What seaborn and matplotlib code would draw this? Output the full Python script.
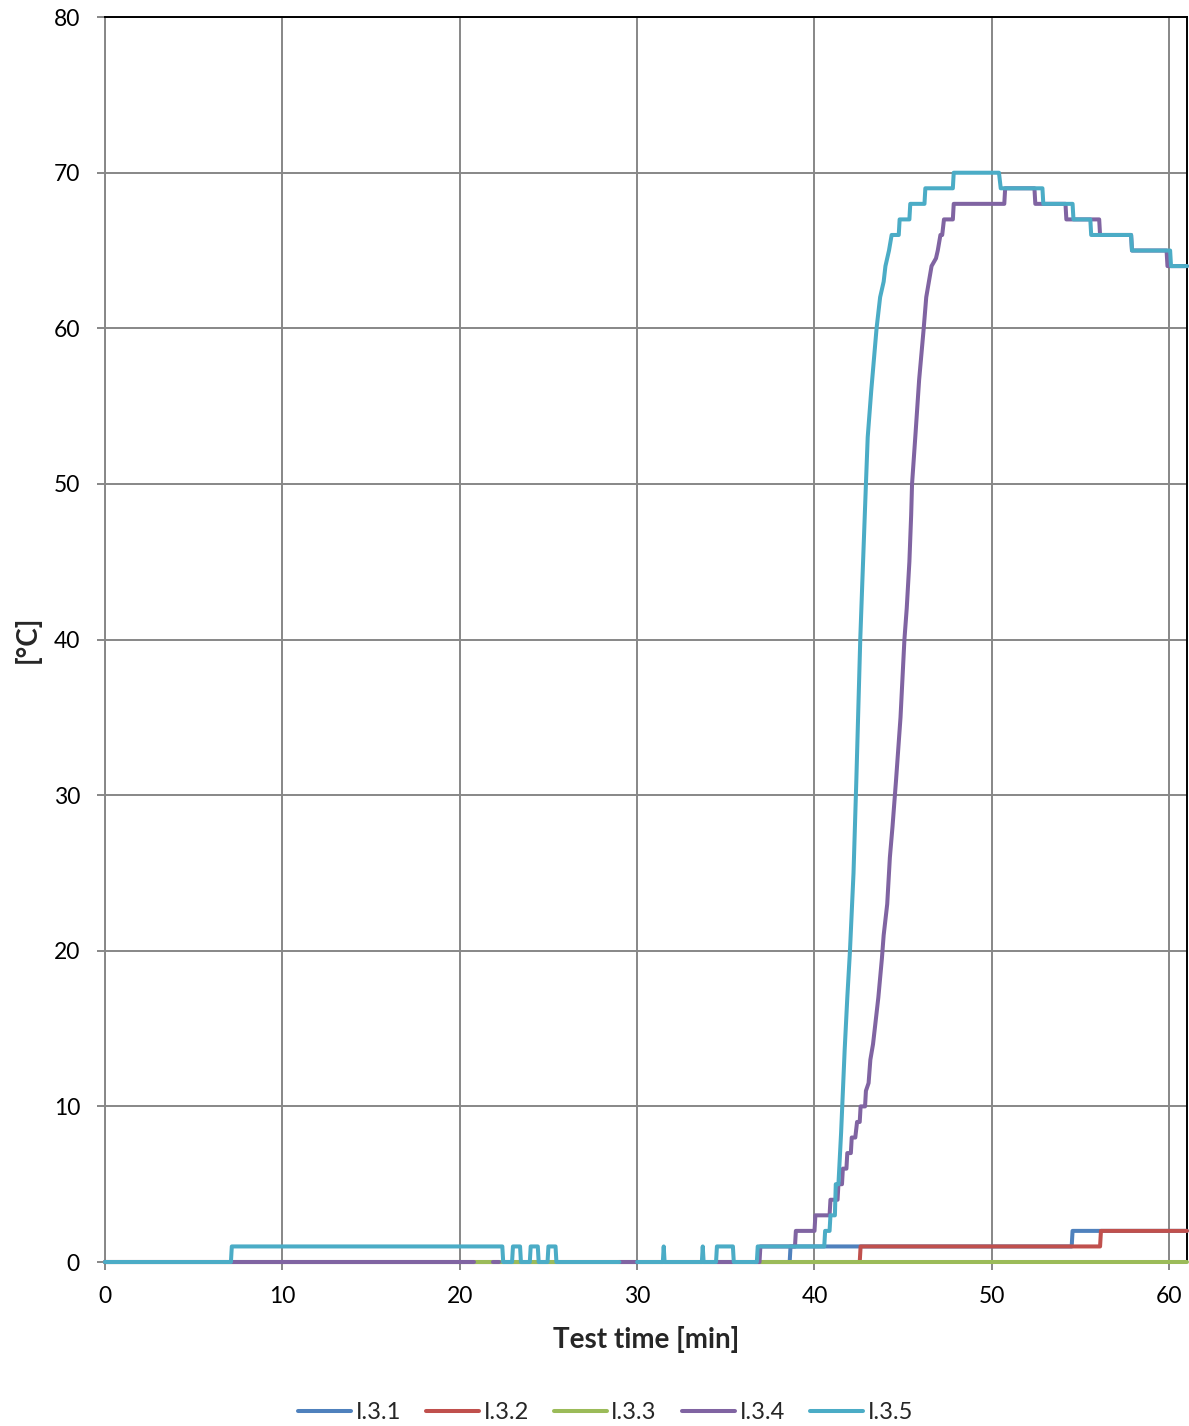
import numpy as np
import pandas as pd
import matplotlib
matplotlib.use("Agg")
import matplotlib.pyplot as plt
from matplotlib.lines import Line2D
import seaborn as sns

nan = np.nan

# Thermocouple readings: corner points of each trace (time in min, temperature in °C).
# NaN marks an interval with no valid reading (gap in the trace).
t_131 = [0, 38.6, 38.65, 54.5, 54.55, 61.0]
v_131 = [0, 0, 1, 1, 2, 2]

t_132 = [0, 42.55, 42.6, 56.1, 56.15, 61.0]
v_132 = [0, 0, 1, 1, 2, 2]

t_133 = [0, 61.0]
v_133 = [0, 0]

t_134 = [0, 20.8, 20.85,
         21.9, 22.2, 22.25,
         29.0, 30.0, 30.05,
         34.5, 35.4, 35.45,
         36.6, 36.9, 36.95, 38.9, 38.95, 40.0, 40.05, 40.85, 40.9, 41.3, 41.35,
         41.55, 41.6, 41.8, 41.85, 42.05, 42.1, 42.3, 42.4, 42.55, 42.6, 42.85,
         42.9, 43.05, 43.15, 43.3, 43.4, 43.6, 43.8, 43.9, 44.1, 44.25, 44.4,
         44.6, 44.85, 45.07, 45.2, 45.35, 45.45, 45.5, 45.7, 45.9, 46.15, 46.3,
         46.45, 46.6, 46.85, 46.95, 47.1, 47.2, 47.3, 47.8, 47.85, 50.7, 50.75,
         52.4, 52.45, 54.15, 54.2, 56.05, 56.1, 57.85, 57.9, 59.85, 59.9, 61.0]
v_134 = [0, 0, nan,
         0, 0, nan,
         0, 0, nan,
         0, 0, nan,
         0, 0, 1, 1, 2, 2, 3, 3, 4, 4, 5,
         5, 6, 6, 7, 7, 8, 8, 9, 9, 10, 10,
         11, 11.5, 13, 14, 15, 17, 19.5, 21, 23, 26, 28,
         31, 35, 40, 42, 45, 48, 50, 53.3, 56.7, 59.9, 62,
         63, 64, 64.5, 65, 66, 66, 67, 67, 68, 68, 69,
         69, 68, 68, 67, 67, 66, 66, 65, 65, 64, 64]

t_135 = [0, 7.1, 7.15, 22.4, 22.45, 22.95, 23.0, 23.4, 23.45, 23.95, 24.0,
         24.4, 24.45, 24.95, 25.0, 25.4, 25.45, 29.0, 29.05,
         30.0, 31.45, 31.5, 31.55, 33.65, 33.7, 33.75, 34.45, 34.5, 35.4,
         35.45, 36.75, 36.8, 40.55, 40.6, 40.85, 40.9, 41.15, 41.2, 41.35,
         41.5, 41.7, 41.85, 42.0, 42.2, 42.36, 42.58, 42.7, 42.9, 43.0, 43.2,
         43.5, 43.7, 43.9, 44.0, 44.2, 44.35, 44.75, 44.8, 45.35, 45.4, 46.2,
         46.25, 47.8, 47.85, 50.4, 50.5, 52.85, 52.9, 54.55, 54.6, 55.55,
         55.6, 57.85, 57.9, 60.05, 60.1, 61.0]
v_135 = [0, 0, 1, 1, 0, 0, 1, 1, 0, 0, 1,
         1, 0, 0, 1, 1, 0, 0, nan,
         0, 0, 1, 0, 0, 1, 0, 0, 1, 1,
         0, 0, 1, 1, 2, 2, 3, 3, 5, 5,
         8.3, 13.6, 17, 20, 25, 31, 40, 43.8, 50, 53, 56,
         60, 62, 63, 64, 65, 66, 66, 67, 67, 68, 68,
         69, 69, 70, 70, 69, 69, 68, 68, 67, 67,
         66, 66, 65, 65, 64, 64]

names = ["I.3.1", "I.3.2", "I.3.3", "I.3.4", "I.3.5"]
times = [t_131, t_132, t_133, t_134, t_135]
values = [v_131, v_132, v_133, v_134, v_135]
colors = ["#4F81BD", "#C0504D", "#9BBB59", "#8064A2", "#4BACC6"]

frames = []
for name, t, v in zip(names, times, values):
    d = pd.DataFrame({"time": t, "temp": v, "sensor": name})
    # a new segment starts after every missing reading
    d["segment"] = d["temp"].isna().cumsum()
    frames.append(d.dropna())
df = pd.concat(frames, ignore_index=True)
df["unit"] = df["sensor"] + "_" + df["segment"].astype(str)

sns.set_theme(style="white")
plt.rcParams["font.family"] = ["Lato", "DejaVu Sans"]

LW = 2.9

fig = plt.figure(figsize=(11.89, 14.26), dpi=100)
ax = fig.add_axes([0.0883, 0.115, 0.9100, 0.873])

sns.lineplot(data=df, x="time", y="temp", hue="sensor", units="unit",
             estimator=None, sort=False, palette=dict(zip(names, colors)),
             hue_order=names, linewidth=LW, ax=ax, legend=False)
for line in ax.get_lines():
    line.set_clip_on(False)
    line.set_zorder(3)

ax.set_xlim(0, 61.0)
ax.set_ylim(0, 80)
ax.set_xticks(np.arange(0, 61, 10))
ax.set_yticks(np.arange(0, 81, 10))
ax.grid(True, color="#878787", linewidth=1.4)
ax.set_axisbelow(True)

for side in ["top", "right"]:
    ax.spines[side].set_color("black")
    ax.spines[side].set_linewidth(1.4)
for side in ["left", "bottom"]:
    ax.spines[side].set_color("#878787")
    ax.spines[side].set_linewidth(1.4)

ax.tick_params(axis="both", which="major", labelsize=16.5, colors="black",
               length=6, width=1.4, direction="out", color="#878787",
               bottom=True, left=True)
ax.tick_params(axis="x", pad=11)
ax.tick_params(axis="y", pad=12)

ax.set_xlabel("Test time [min]", fontsize=20, fontweight="bold", labelpad=14)
ax.set_ylabel("[°C]", fontsize=20, fontweight="bold", labelpad=9)

handles = [Line2D([0], [0], color=c, lw=LW) for c in colors]
fig.legend(handles, names, loc="lower center", bbox_to_anchor=(0.509, -0.013),
           ncol=5, frameon=False, fontsize=17, handlelength=2.25,
           handletextpad=0.2, columnspacing=1.05)

fig.savefig("out.png", dpi=100)
